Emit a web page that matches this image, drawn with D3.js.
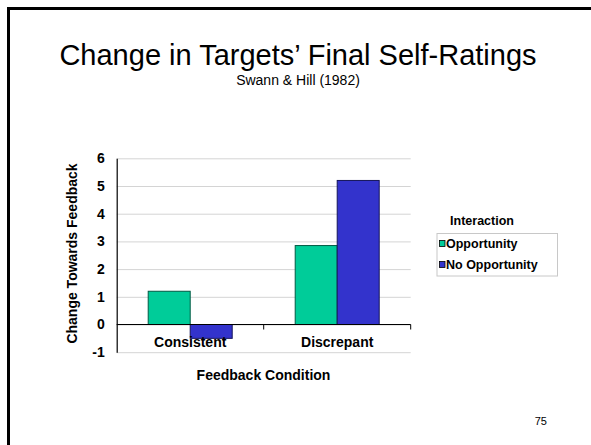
<!DOCTYPE html>
<html>
<head>
<meta charset="utf-8">
<script src="https://cdn.jsdelivr.net/npm/d3@7"></script>
<style>
  html, body { margin: 0; padding: 0; background: #fff; }
  svg { display: block; }
  text { font-family: "Liberation Sans", Arial, Helvetica, sans-serif; fill: #000; }
</style>
</head>
<body>
<svg id="chart" width="591" height="445"></svg>
<script>
// Feedback conditions along the x axis
const categories = ["Consistent", "Discrepant"];
// Interaction groups (legend order)
const seriesNames = ["Opportunity", "No Opportunity"];
// Change towards feedback, one value per condition
const opportunityValues = [1.2, 2.85];
const noOpportunityValues = [-0.5, 5.2];
// Y axis tick labels
const yTickValues = [-1, 0, 1, 2, 3, 4, 5, 6];

const seriesValues = [opportunityValues, noOpportunityValues];
const colors = ["#00CC99", "#3333CC"];
const strokes = ["#005a44", "#14145a"];

const svg = d3.select("#chart");
const W = 591, H = 445;

// slide background and frame
svg.append("rect").attr("x", 0).attr("y", 0).attr("width", W).attr("height", H).attr("fill", "#fff");
svg.append("rect")
  .attr("x", 8.5).attr("y", 8.5).attr("width", 800).attr("height", 800)
  .attr("fill", "none").attr("stroke", "#000").attr("stroke-width", 3);

// titles
svg.append("text").attr("x", 298).attr("y", 65).attr("text-anchor", "middle")
  .style("font-size", "29px").text("Change in Targets\u2019 Final Self-Ratings");
svg.append("text").attr("x", 298).attr("y", 85).attr("text-anchor", "middle")
  .style("font-size", "14px").text("Swann & Hill (1982)");

// plot area
const plot = { left: 116.7, right: 410.7, top: 158.3, bottom: 352.2 };

const y = d3.scaleLinear().domain([-1, 6]).range([plot.bottom, plot.top]);
const x0 = d3.scaleBand().domain(categories).range([plot.left, plot.right])
  .paddingInner(0).paddingOuter(0);
const x1 = d3.scaleBand().domain(seriesNames).range([0, x0.bandwidth()])
  .paddingInner(0).paddingOuter(0.75);

// gridlines
const grid = svg.append("g").attr("transform", `translate(${plot.left},0)`)
  .call(d3.axisLeft(y).tickValues(yTickValues).tickSize(-(plot.right - plot.left)).tickFormat(""));
grid.select(".domain").remove();
grid.selectAll(".tick line").attr("stroke", "#d4d4d4").attr("stroke-width", 1);

// bars
const groups = svg.append("g").selectAll("g")
  .data(categories)
  .join("g")
  .attr("transform", d => `translate(${x0(d)},0)`);

groups.selectAll("rect")
  .data((c, ci) => seriesNames.map((s, si) => ({ s, si, v: seriesValues[si][ci] })))
  .join("rect")
  .attr("x", d => x1(d.s))
  .attr("width", x1.bandwidth())
  .attr("y", d => y(Math.max(0, d.v)))
  .attr("height", d => Math.abs(y(d.v) - y(0)))
  .attr("fill", d => colors[d.si])
  .attr("stroke", d => strokes[d.si])
  .attr("stroke-width", 1);

// zero line with category separators
svg.append("line")
  .attr("x1", plot.left).attr("x2", plot.right)
  .attr("y1", y(0)).attr("y2", y(0))
  .attr("stroke", "#000").attr("stroke-width", 1.2);
const sepTicks = categories.map(c => x0(c) + x0.bandwidth());
svg.append("g").selectAll("line").data(sepTicks).join("line")
  .attr("x1", d => d).attr("x2", d => d)
  .attr("y1", y(0)).attr("y2", y(0) + 5)
  .attr("stroke", "#000").attr("stroke-width", 1);

// y axis
const yAxis = svg.append("g").attr("transform", `translate(${plot.left},0)`)
  .call(d3.axisLeft(y).tickValues(yTickValues).tickSize(0).tickPadding(12).tickFormat(d => String(d)));
yAxis.select(".domain").attr("stroke", "#000").attr("stroke-width", 1.2);
yAxis.selectAll(".tick text")
  .style("font-size", "14px").style("font-weight", "bold")
  .style("font-family", "'Liberation Sans', Arial, sans-serif").attr("fill", "#000");

// category labels
svg.append("g").selectAll("text").data(categories).join("text")
  .attr("x", d => x0(d) + x0.bandwidth() / 2)
  .attr("y", 347)
  .attr("text-anchor", "middle")
  .style("font-size", "14px").style("font-weight", "bold")
  .text(d => d);

// axis titles
svg.append("text").attr("x", 263.5).attr("y", 380).attr("text-anchor", "middle")
  .style("font-size", "14px").style("font-weight", "bold").text("Feedback Condition");
svg.append("text").attr("transform", "translate(76.5,253.5) rotate(-90)")
  .attr("text-anchor", "middle")
  .style("font-size", "14px").style("font-weight", "bold").text("Change Towards Feedback");

// legend
const legend = svg.append("g");
legend.append("text").attr("x", 482).attr("y", 225).attr("text-anchor", "middle")
  .style("font-size", "12.5px").style("font-weight", "bold").text("Interaction");
legend.append("rect").attr("x", 437).attr("y", 233.5).attr("width", 120.5).attr("height", 42.5)
  .attr("fill", "#fff").attr("stroke", "#c8c8c8").attr("stroke-width", 1);
const items = legend.selectAll("g.item").data(seriesNames).join("g")
  .attr("class", "item")
  .attr("transform", (d, i) => `translate(0,${243.5 + i * 21})`);
items.append("rect").attr("x", 439.5).attr("y", -3).attr("width", 5.5).attr("height", 6)
  .attr("fill", (d, i) => colors[i]).attr("stroke", "#000").attr("stroke-width", 0.8);
items.append("text").attr("x", 446).attr("y", 4.5)
  .style("font-size", "12.5px").style("font-weight", "bold").text(d => d);

// slide number
svg.append("text").attr("x", 547).attr("y", 425).attr("text-anchor", "end")
  .style("font-size", "11px").attr("fill", "#222").text("75");
</script>
</body>
</html>
